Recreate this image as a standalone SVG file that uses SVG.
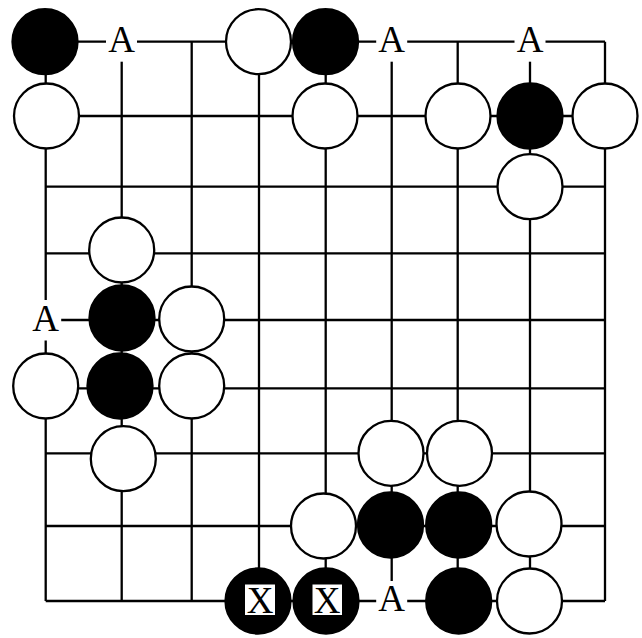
<svg xmlns="http://www.w3.org/2000/svg" width="642" height="638" viewBox="0 0 642 638">
<style>
.g{stroke:#000;stroke-width:2.3;fill:none}
.w{fill:#fff;stroke:#000;stroke-width:2.3}
.b{fill:#000;stroke:#000;stroke-width:2.3}
.lb{fill:#fff;stroke:none}
.t{font-family:"Liberation Serif","Times New Roman",serif;font-size:37px;fill:#000;text-anchor:middle}
</style>
<rect width="642" height="638" fill="#fff"/>
<g id="grid">
<path class="g" d="M45.7 41.7H605M45.7 116H605M45.7 186.7H605M45.7 253.3H605M45.7 320H605M45.7 388.3H605M45.7 453.3H605M45.7 526H605M45.7 601H605"/>
<path class="g" d="M45.7 41.7V601M121.7 41.7V601M191.7 41.7V601M259 41.7V601M325.7 41.7V601M391.7 41.7V601M457.7 41.7V601M530 41.7V601M605 41.7V601"/>
</g>
<g id="s-r0c0"><circle class="b" cx="45" cy="41.7" r="32.5"/></g>
<g id="a-r0c1"><rect class="lb" x="106" y="21.7" width="31" height="40"/><text class="t" x="121.7" y="51.7">A</text></g>
<g id="s-r0c3"><circle class="w" cx="258.5" cy="41.7" r="32.5"/></g>
<g id="s-r0c4"><circle class="b" cx="325.5" cy="41.7" r="32.5"/></g>
<g id="a-r0c5"><rect class="lb" x="376.2" y="21.7" width="31" height="40"/><text class="t" x="391.7" y="51.7">A</text></g>
<g id="a-r0c7"><rect class="lb" x="514.5" y="21.7" width="31" height="40"/><text class="t" x="530" y="51.7">A</text></g>
<g id="s-r1c0"><circle class="w" cx="46.5" cy="116" r="32.5"/></g>
<g id="s-r1c4"><circle class="w" cx="325" cy="116" r="32.5"/></g>
<g id="s-r1c6"><circle class="w" cx="458" cy="116" r="32.5"/></g>
<g id="s-r1c7"><circle class="b" cx="530" cy="116" r="32.5"/></g>
<g id="s-r1c8"><circle class="w" cx="605" cy="116" r="32.5"/></g>
<g id="s-r2c7"><circle class="w" cx="530" cy="186.7" r="32.5"/></g>
<g id="s-r3c1"><circle class="w" cx="121.7" cy="250" r="32.5"/></g>
<g id="a-r4c0"><rect class="lb" x="30.2" y="300" width="31" height="40.5"/><text class="t" x="45.7" y="330.5">A</text></g>
<g id="s-r4c1"><circle class="b" cx="122" cy="318" r="32.5"/></g>
<g id="s-r4c2"><circle class="w" cx="191.7" cy="319" r="32.5"/></g>
<g id="s-r5c0"><circle class="w" cx="45.7" cy="386" r="32.5"/></g>
<g id="s-r5c1"><circle class="b" cx="120" cy="386" r="32.5"/></g>
<g id="s-r5c2"><circle class="w" cx="191.7" cy="386" r="32.5"/></g>
<g id="s-r6c1"><circle class="w" cx="123.3" cy="458.7" r="32.5"/></g>
<g id="s-r6c5"><circle class="w" cx="391" cy="453.3" r="32.5"/></g>
<g id="s-r6c6"><circle class="w" cx="459.5" cy="453.3" r="32.5"/></g>
<g id="s-r7c4"><circle class="w" cx="323.5" cy="526" r="32.5"/></g>
<g id="s-r7c5"><circle class="b" cx="390.5" cy="525" r="32.5"/></g>
<g id="s-r7c6"><circle class="b" cx="458.7" cy="525" r="32.5"/></g>
<g id="s-r7c7"><circle class="w" cx="529" cy="524" r="32.5"/></g>
<g id="s-r8c3"><circle class="b" cx="258" cy="601" r="32.5"/><rect class="lb" x="245" y="584.5" width="30" height="30.5"/><text class="t" x="260" y="613">X</text></g>
<g id="s-r8c4"><circle class="b" cx="326" cy="601" r="32.5"/><rect class="lb" x="312.5" y="584.5" width="29.5" height="30.5"/><text class="t" x="327.2" y="613">X</text></g>
<g id="a-r8c5"><rect class="lb" x="376.2" y="581" width="31" height="40"/><text class="t" x="391.7" y="611">A</text></g>
<g id="s-r8c6"><circle class="b" cx="458.7" cy="601" r="32.5"/></g>
<g id="s-r8c7"><circle class="w" cx="529.5" cy="601" r="32.5"/></g>
</svg>
